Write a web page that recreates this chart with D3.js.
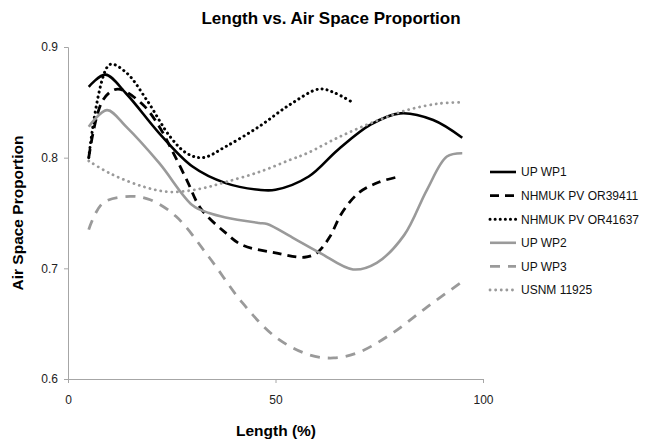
<!DOCTYPE html>
<html><head><meta charset="utf-8">
<script src="https://cdn.jsdelivr.net/npm/d3@7"></script>
<style>body{margin:0;background:#fff;} text{font-family:"Liberation Sans",Arial,sans-serif;}</style>
</head><body><svg id="c" width="647" height="442"></svg>
<script>
const seriesNames = ["UP WP1","NHMUK PV OR39411","NHMUK PV OR41637","UP WP2","UP WP3","USNM 11925"];
const wp1X = [5,9,14,22,30,38,46,50,58,65,73,80,88,95];
const wp1Y = [0.864,0.875,0.858,0.822,0.792,0.777,0.771,0.771,0.783,0.807,0.830,0.840,0.834,0.818];
const or39411X = [5,8.4,12,18,22,25,28.6,32,38,42,50,57,60,63,66,70,75,80];
const or39411Y = [0.800,0.852,0.862,0.848,0.828,0.807,0.780,0.754,0.732,0.721,0.714,0.710,0.714,0.728,0.750,0.768,0.778,0.783];
const or41637X = [5,10,14,19,24.6,28.6,32.5,38,46,53.5,60.5,64,69];
const or41637Y = [0.800,0.884,0.877,0.852,0.819,0.804,0.800,0.810,0.828,0.848,0.862,0.859,0.849];
const wp2X = [5,9.4,14,22,30,34,38,46,48,54,60.7,68.7,74.4,81,86.5,91.3,95];
const wp2Y = [0.828,0.843,0.828,0.795,0.757,0.750,0.746,0.741,0.740,0.728,0.714,0.699,0.705,0.730,0.771,0.801,0.804];
const wp3X = [5,8.4,15,19.8,26,34,42,50,58,64,70,78,86.5,95];
const wp3Y = [0.735,0.759,0.765,0.762,0.747,0.710,0.669,0.638,0.622,0.619,0.624,0.641,0.665,0.688];
const usnmX = [5,10,18,24.6,32,38,46,53.5,57.6,65.5,73.5,81.7,89.6,95];
const usnmY = [0.797,0.786,0.774,0.769,0.772,0.778,0.787,0.798,0.804,0.819,0.832,0.843,0.849,0.850];
const xTicks = [0,50,100];
const yTicks = [0.6,0.7,0.8,0.9];

const svg = d3.select("#c");
const x = d3.scaleLinear().domain([0,100]).range([68,483]);
const y = d3.scaleLinear().domain([0.6,0.9]).range([379,47]);

const styles = [
  {color:"#000", width:2.6, dash:null, cap:"butt"},
  {color:"#000", width:2.8, dash:"9,6", cap:"butt"},
  {color:"#000", width:3, dash:"0.1,5", cap:"round"},
  {color:"#9a9a9a", width:2.6, dash:null, cap:"butt"},
  {color:"#9a9a9a", width:2.8, dash:"10,8", cap:"butt"},
  {color:"#9a9a9a", width:2.8, dash:"0.1,5.5", cap:"round"}
];
const data = [[wp1X,wp1Y],[or39411X,or39411Y],[or41637X,or41637Y],[wp2X,wp2Y],[wp3X,wp3Y],[usnmX,usnmY]];

const xa = svg.append("g").attr("transform",`translate(0,${y(0.6)})`)
  .call(d3.axisBottom(x).tickValues(xTicks).tickSize(4).tickPadding(12).tickFormat(d3.format("d")));
const ya = svg.append("g").attr("transform",`translate(${x(0)},0)`)
  .call(d3.axisLeft(y).tickValues(yTicks).tickSize(4).tickPadding(6).tickFormat(d3.format(".1f")));
[xa,ya].forEach(a=>{
  a.selectAll("path,line").attr("stroke","#a6a6a6").attr("stroke-width",1);
  a.selectAll("text").attr("font-size",12).attr("fill","#222").attr("font-family","Liberation Sans, Arial, sans-serif");
});

const line = d3.line().curve(d3.curveCatmullRom.alpha(0.5));
data.forEach((d,i)=>{
  const pts = d[0].map((v,j)=>[x(v), y(d[1][j])]);
  const s = styles[i];
  svg.append("path").attr("d", line(pts)).attr("fill","none")
    .attr("stroke", s.color).attr("stroke-width", s.width)
    .attr("stroke-dasharray", s.dash).attr("stroke-linecap", s.cap);
});

const lg = svg.append("g");
seriesNames.forEach((n,i)=>{
  const yy = 172 + i*23.6;
  const s = styles[i];
  lg.append("line").attr("x1",490).attr("x2",516).attr("y1",yy).attr("y2",yy)
    .attr("stroke", s.color).attr("stroke-width", s.width)
    .attr("stroke-dasharray", s.dash).attr("stroke-linecap", s.cap);
  lg.append("text").attr("x",521).attr("y",yy+4.3).attr("font-size",12).attr("fill","#111").text(n);
});

svg.append("text").attr("x",331).attr("y",24).attr("text-anchor","middle")
  .attr("font-size",17).attr("font-weight","bold").text("Length vs. Air Space Proportion");
svg.append("text").attr("x",276).attr("y",436).attr("text-anchor","middle")
  .attr("font-size",15.5).attr("font-weight","bold").text("Length (%)");
svg.append("text").attr("transform","translate(23,213) rotate(-90)").attr("text-anchor","middle")
  .attr("font-size",15.5).attr("font-weight","bold").text("Air Space Proportion");
</script></body></html>
